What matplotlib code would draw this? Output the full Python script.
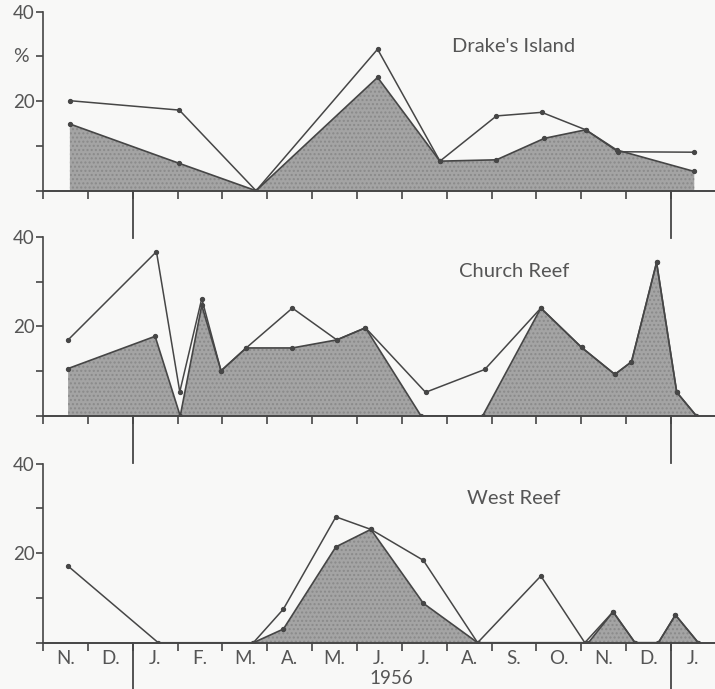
import matplotlib.pyplot as plt

plt.rcParams['font.family'] = ['Lato', 'DejaVu Sans']

# x in months from 1 Nov 1955
months = ['N.', 'D.', 'J.', 'F.', 'M.', 'A.', 'M.', 'J.', 'J.', 'A.', 'S.', 'O.', 'N.', 'D.', 'J.']

# Drake's Island
drake_top_x = [0.60, 3.04, 4.75, 7.46, 8.85, 10.11, 11.12, 12.10, 12.82, 14.52]
drake_top_y = [20.1, 18.0, 0.0, 31.6, 6.6, 16.7, 17.5, 13.6, 8.7, 8.6]
drake_fill_x = [0.60, 3.04, 4.75, 7.46, 8.85, 10.11, 11.18, 12.10, 12.79, 14.52]
drake_fill_y = [14.9, 6.1, 0.0, 25.3, 6.6, 6.9, 11.7, 13.6, 9.1, 4.3]

# Church Reef
church_top_x = [0.56, 2.53, 3.05, 3.54, 3.97, 4.53, 5.56, 6.55, 7.19, 8.53, 9.85,
                11.10, 12.01, 12.75, 13.12, 13.68, 14.13, 14.57]
church_top_y = [17.0, 36.7, 5.4, 26.2, 10.1, 15.2, 24.1, 17.0, 19.7, 5.3, 10.4,
                24.1, 15.3, 9.3, 12.1, 34.3, 5.3, 0.0]
church_fill_x = [0.56, 2.50, 3.06, 3.54, 3.97, 4.53, 5.56, 6.55, 7.19, 8.43, 9.80,
                 11.10, 12.01, 12.75, 13.12, 13.68, 14.13, 14.57]
church_fill_y = [10.6, 17.8, 0.0, 24.7, 10.1, 15.2, 15.2, 17.0, 19.7, 0.0, 0.0,
                 24.1, 15.3, 9.3, 12.1, 34.3, 5.3, 0.0]

# West Reef
west_top_x = [0.56, 2.57, 4.69, 5.36, 6.53, 7.31, 8.48, 9.69, 11.10, 12.08, 12.71,
              13.20, 13.72, 14.10, 14.61]
west_top_y = [17.1, 0.0, 0.0, 7.5, 28.1, 25.3, 18.4, 0.0, 14.9, 0.0, 6.9,
              0.0, 0.0, 6.2, 0.0]
west_fill_x = [4.69, 5.36, 6.53, 7.31, 8.48, 9.69, 12.16, 12.71, 13.20, 13.72, 14.10, 14.61]
west_fill_y = [0.0, 3.05, 21.4, 25.3, 8.8, 0.0, 0.0, 6.9, 0.0, 0.0, 6.2, 0.0]

panels = [
    ("Drake's Island", drake_top_x, drake_top_y, drake_fill_x, drake_fill_y),
    ("Church Reef", church_top_x, church_top_y, church_fill_x, church_fill_y),
    ("West Reef", west_top_x, west_top_y, west_fill_x, west_fill_y),
]

ink = '#464646'
txt = '#555555'
bg = '#f8f8f7'

fig = plt.figure(figsize=(7.15, 6.89), dpi=100, facecolor=bg)
bottoms = [0.7232, 0.3962, 0.0672]

for k, (name, tx, ty, fx, fy) in enumerate(panels):
    ax = fig.add_axes([0.0601, bottoms[k], 0.941, 0.26])
    ax.set_facecolor('none')
    ax.fill_between(fx, fy, 0, color='#a4a4a4', lw=0, hatch='....', edgecolor='#8a8a8a')
    ax.plot(fx, fy, color=ink, lw=1.2, marker='o', ms=2.8)
    ax.plot(tx, ty, color=ink, lw=1.1, marker='o', ms=2.8)

    ax.set_xlim(0, 15)
    ax.set_ylim(0, 40)
    for s in ['top', 'right']:
        ax.spines[s].set_visible(False)
    ax.spines['left'].set_color(ink)
    ax.spines['bottom'].set_color(ink)
    ax.spines['left'].set_linewidth(1.2)
    ax.spines['bottom'].set_linewidth(1.4)

    ax.set_yticks([0, 10, 20, 30, 40])
    ax.set_yticklabels(['', '', '20', '', '40'])
    ax.set_xticks(range(15))
    ax.tick_params(axis='both', direction='out', color=ink, width=1.2,
                   labelsize=13.5, labelcolor=txt, pad=1)
    ax.tick_params(axis='x', length=6)
    ax.tick_params(axis='y', length=5)

    # year dividers
    for xd in [2, 14]:
        ax.plot([xd, xd], [0, -10.5], color=ink, lw=1.3, clip_on=False)

    ax.text(10.5, 32.3, name, fontsize=14.5, color=txt, ha='center', va='center')

    if k == 2:
        ax.set_xticklabels([''] * 15)
        for i, m in enumerate(months):
            ax.text(i + 0.5, -3.5, m, fontsize=13.5, color=txt, ha='center', va='center')
        ax.text(7.77, -7.9, '1956', fontsize=13.5, color=txt, ha='center', va='center')
    else:
        ax.set_xticklabels([])

    if k == 0:
        ax.text(-0.5, 30.0, '%', fontsize=14, color=txt, ha='center', va='center')

fig.savefig('out.png', dpi=100, facecolor=bg)
